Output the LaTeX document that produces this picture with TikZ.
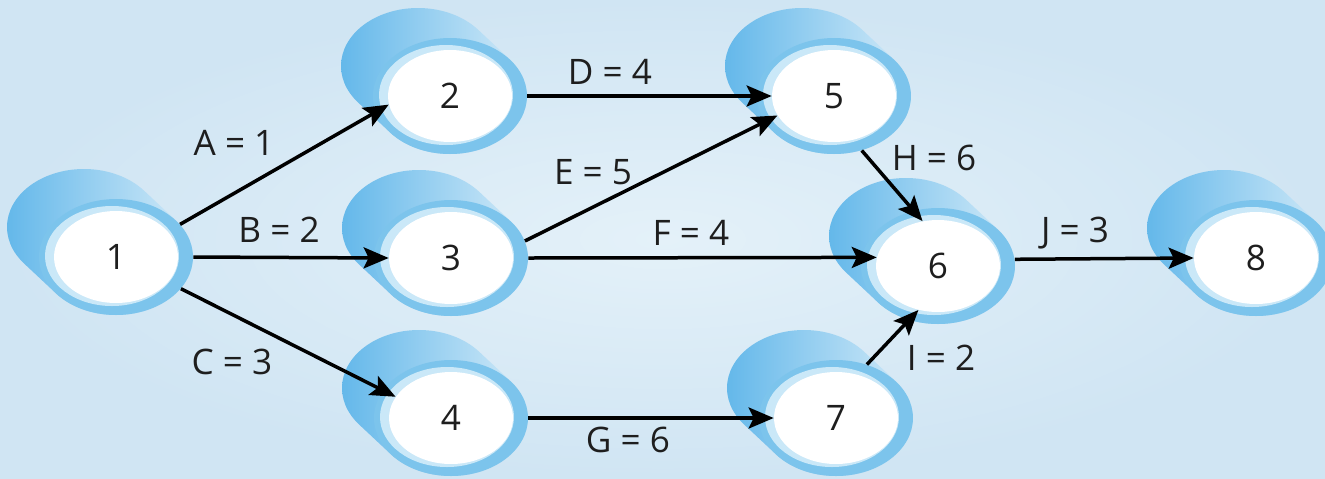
\documentclass[tikz,border=0pt]{standalone}
\usepackage{fontspec}
\setmainfont{Open Sans}
\usetikzlibrary{shapes.geometric,arrows.meta,calc}
\definecolor{bgin}{RGB}{228,241,249}
\definecolor{bgout}{RGB}{208,229,243}
\definecolor{shadowdark}{RGB}{100,184,234}
\definecolor{shadowlight}{RGB}{210,234,248}
\definecolor{ringblue}{RGB}{124,196,236}
\definecolor{ringpale}{RGB}{202,232,248}
\definecolor{textgray}{RGB}{30,30,30}

\newcommand{\netfont}{\fontsize{20}{24}\selectfont}

% event: shadow tube, blue ring, white core
\newcommand{\eventnode}[2]{%
  \begin{scope}[shift={(#2)}]
    \shade[left color=shadowdark, right color=shadowlight]
      (0,0) ellipse [x radius=77, y radius=58]
      (-32,30) ellipse [x radius=77, y radius=58]
      (-60,-36.4) -- (60,36.4) -- (28,66.4) -- (-92,-6.4) -- cycle;
  \end{scope}
  \node[ring] (r#1) at (#2) {};
  \fill[ringpale] ($(#2)+(-4,1)$) ellipse [x radius=67, y radius=50];
  \node[core] (n#1) at (#2) {#1};
}

\begin{document}
\begin{tikzpicture}[x=0.02cm, y=0.02cm,
                ring/.style={ellipse, fill=ringblue, minimum width=3.08cm, minimum height=2.32cm, inner sep=0pt},
                core/.style={ellipse, fill=white, minimum width=2.48cm, minimum height=1.84cm, inner sep=0pt, font=\netfont, text=textgray},
                lbl/.style={font=\netfont, text=textgray, anchor=base, inner sep=0pt},
                arrow/.style={-{Stealth[length=0.5cm, width=0.42cm, inset=0.1cm]}, line width=0.07cm}]

                % Background
                \useasboundingbox (0,0) rectangle (1325,-478);
                \shade[inner color=bgin, outer color=bgout] (0,0) rectangle (1325,-478);

                % Events
                \foreach \n/\pos in {1/{116,-257}, 2/{450,-96}, 3/{451,-258}, 4/{451,-418},
                                     5/{834,-96}, 6/{938,-266}, 7/{836,-418}, 8/{1256,-258}} {
                    \eventnode{\n}{\pos}
                }

                % Activities
                \draw[arrow] (r1.27) -- (n2.188);
                \draw[arrow] (r1.east) -- (n3.west);
                \draw[arrow] (r1.-26) -- (n4.159);
                \draw[arrow] (r2.east) -- (n5.west);
                \draw[arrow] (r3.13) -- (n5.199);
                \draw[arrow] (r3.east) -- (n6.172);
                \draw[arrow] (r4.east) -- (n7.west);
                \draw[arrow] (r5.-63) -- (n6.109);
                \draw[arrow] (r7.60) -- (n6.246);
                \draw[arrow] (r6.5) -- (n8.west);

                % Durations
                \node[lbl] (lA) at (234,-155) {A = 1};
                \node[lbl] (lB) at (279,-242) {B = 2};
                \node[lbl] (lC) at (232,-374) {C = 3};
                \node[lbl] (lD) at (610,-84) {D = 4};
                \node[lbl] (lE) at (593,-184) {E = 5};
                \node[lbl] (lF) at (691,-245) {F = 4};
                \node[lbl] (lG) at (628,-452) {G = 6};
                \node[lbl] (lH) at (934,-170) {H = 6};
                \node[lbl] (lI) at (941,-370) {I = 2};
                \node[lbl] (lJ) at (1075,-242) {J = 3};

            \end{tikzpicture}
\end{document}
